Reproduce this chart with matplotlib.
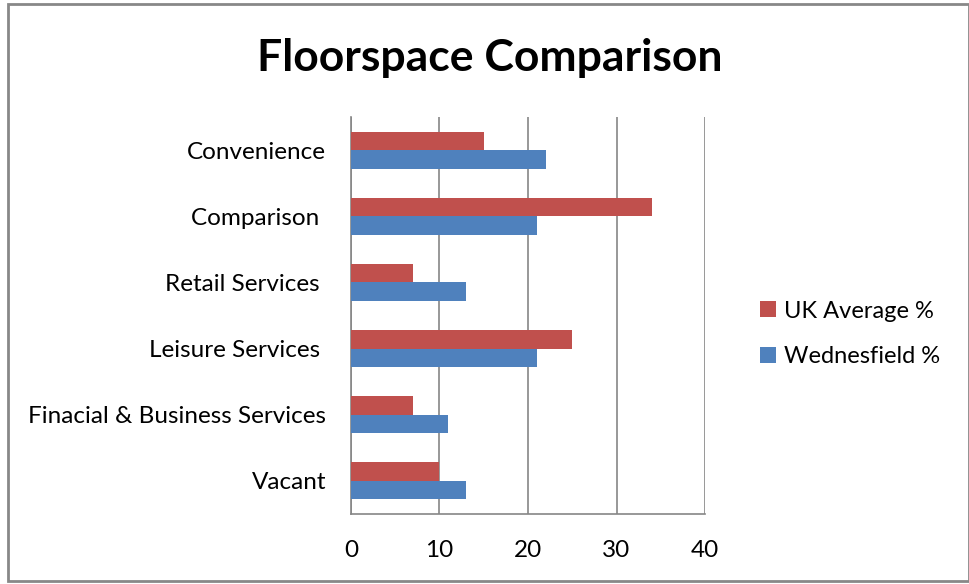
import matplotlib.pyplot as plt
import numpy as np
from matplotlib.patches import Rectangle

# Floorspace shares by category (%)
categories = ["Convenience", "Comparison ", "Retail Services ", "Leisure Services ",
              "Finacial & Business Services", "Vacant"]
uk_average = [15, 34, 7, 25, 7, 10]
wednesfield = [22, 21, 13, 21, 11, 13]
x_ticks = [0, 10, 20, 30, 40]

red = "#C0504D"
blue = "#4F81BD"
grid_grey = "#868686"

plt.rcParams["font.family"] = ["Lato", "DejaVu Sans"]

fig = plt.figure(figsize=(9.7, 5.84), dpi=100)
ax = fig.add_axes([351 / 970, 1 - 514 / 584, 354 / 970, 397 / 584])

# categories run top to bottom
y = np.arange(len(categories))[::-1]
h = 0.28
ax.barh(y + h / 2, uk_average, height=h, color=red, label="UK Average %", zorder=3)
ax.barh(y - h / 2, wednesfield, height=h, color=blue, label="Wednesfield %", zorder=3)

ax.set_xlim(0, 40)
ax.set_ylim(-0.5, len(categories) - 0.5)
ax.set_xticks(x_ticks)
ax.set_yticks(y)
ax.set_yticklabels(categories)
ax.tick_params(axis="both", length=0, labelsize=17.5, colors="black")
ax.tick_params(axis="y", pad=18)
ax.tick_params(axis="x", pad=19)

ax.xaxis.grid(True, color=grid_grey, linewidth=1.2, zorder=0)
for side in ["top", "right"]:
    ax.spines[side].set_visible(False)
for side in ["left", "bottom"]:
    ax.spines[side].set_color(grid_grey)
    ax.spines[side].set_linewidth(1.2)

fig.text(0.5 + 5 / 970, 1 - 58 / 584, "Floorspace Comparison", ha="center", va="center",
         fontsize=32, fontweight="bold")

handles, labels = ax.get_legend_handles_labels()
fig.legend(handles, labels, loc="center left", bbox_to_anchor=(739 / 970, 1 - 334 / 584),
           frameon=False, fontsize=17, handlelength=0.65, handleheight=0.65,
           handletextpad=0.35, labelspacing=1.05)

# outer chart border
fig.patches.append(Rectangle((8 / 970, 3 / 584), 961 / 970, 577 / 584,
                             transform=fig.transFigure, fill=False,
                             edgecolor="#888888", linewidth=2))

fig.savefig("out.png", dpi=100)
